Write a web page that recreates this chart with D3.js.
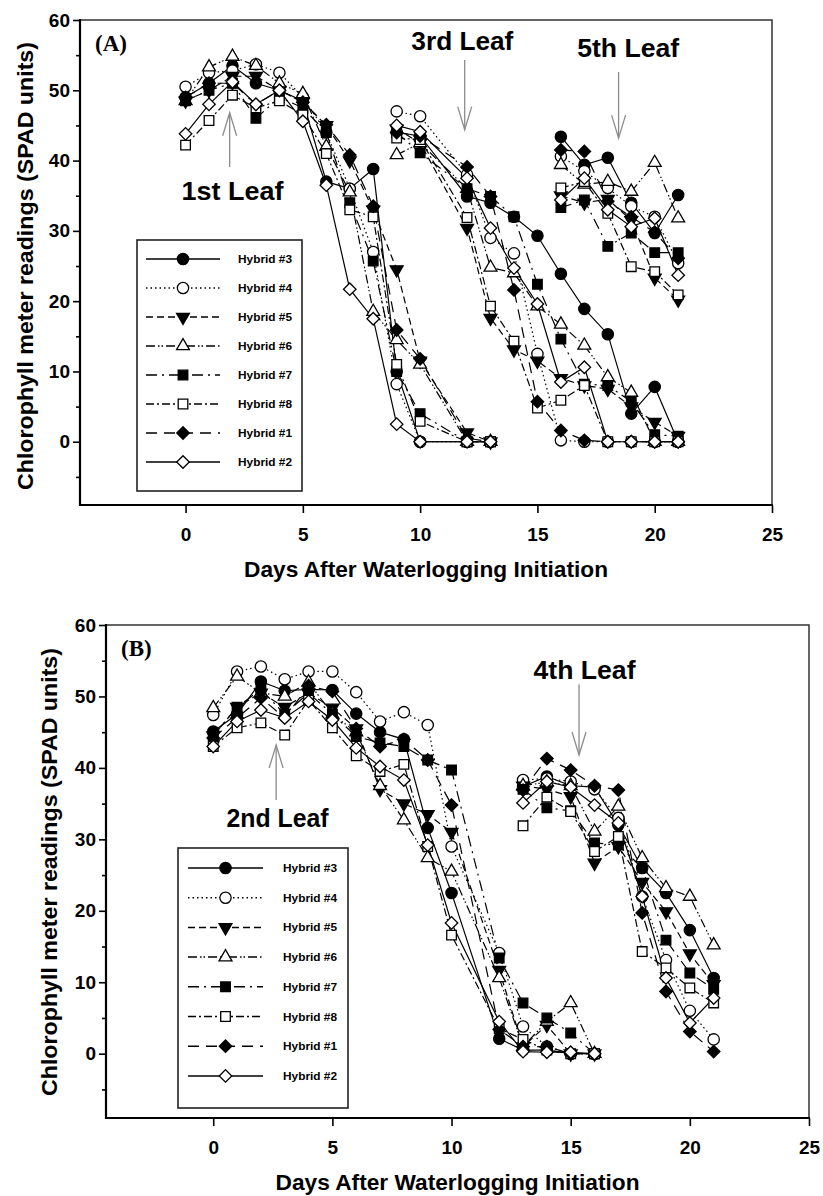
<!DOCTYPE html>
<html>
<head>
<meta charset="utf-8">
<script src="https://d3js.org/d3.v7.min.js"></script>
<style>
    body { margin: 0; background: #fff; }
    svg text { font-family: "Liberation Sans", Arial, sans-serif; font-weight: bold; fill: #000; }
    .series { fill: none; stroke: #000; stroke-width: 1.2; }
    .panelTag { font-family: "Liberation Serif", "Times New Roman", serif !important; }
</style>
</head>
<body>
<svg id="chart" width="823" height="1196"></svg>

<script>
    // ---- data ----
    // hybrid order as in the legend
    const hybrids = ["Hybrid #3", "Hybrid #4", "Hybrid #5", "Hybrid #6", "Hybrid #7", "Hybrid #8", "Hybrid #1", "Hybrid #2"];

    // panel A
    const daysLeaf1 = [0, 1, 2, 3, 4, 5, 6, 7, 8, 9, 10, 12, 13];
    const leaf1 = [
        [49, 51, 53.5, 51, 50, 48.5, 37, 36, 38.8, 10, 0, 0, 0],
        [50.5, 52.5, 52.8, 53.7, 52.5, 49, 44, 36, 27, 8.2, 0, 0, 0],
        [48.5, 50, 52, 52, 50, 48.3, 45, 40, 33, 24.5, 11.5, 1.3, 0],
        [48.5, 53.3, 54.8, 53.5, 51, 49.5, 42, 35.5, 18.5, 14.5, 11, 0, 0],
        [48.5, 50, 51, 46, 49, 47.5, 44, 34, 25.7, 10, 4, 0, 0],
        [42.2, 45.7, 49.3, 47.5, 48.5, 46.5, 41, 33, 32, 11, 2.9, 0, 0],
        [49, 51, 51, 48, 50, 48.3, 45.1, 40.8, 33.5, 15.9, 11.8, 0.5, 0],
        [43.8, 48, 51.2, 48, 50, 45.6, 36.5, 21.7, 17.5, 2.5, 0, 0, 0]
    ];
    const daysLeaf3 = [9, 10, 12, 13, 14, 15, 16, 17, 18, 19, 20, 21];
    const leaf3 = [
        [44, 43.5, 34.9, 34, 32, 29.3, 23.9, 18.9, 15.3, 4, 7.8, 0],
        [47, 46.3, 38, 29, 26.8, 12.5, 0.2, 0, 0, 0, 0, 0],
        [44.5, 42.5, 30.4, 17.6, 13.1, 11.5, 9, 8, 7.5, 5, 2.8, 0.8],
        [40.8, 42.5, 36, 24.8, 24, 19.3, 16.7, 13.7, 9.2, 7, 0, 0],
        [44, 41.1, 36, 34.9, 32, 22.4, 14.6, 8.2, 8, 5.7, 1, 0.8],
        [43.2, 43, 31.9, 19.3, 14.3, 4.8, 5.9, 8, 0, 0, 0, 0],
        [44, 43.5, 39.1, 34.9, 21.6, 5.7, 1.6, 0.2, 0, 0, 0, 0],
        [45, 44.1, 37.5, 30.4, 24.7, 19.6, 8.5, 10.6, 0, 0, 0, 0]
    ];
    const daysLeaf5 = [16, 17, 18, 19, 20, 21];
    const leaf5 = [
        [43.4, 39.4, 40.4, 34, 29.7, 35.1],
        [40.6, 38.5, 36.1, 33.5, 32, 25.4],
        [35, 34, 34.5, 31.5, 23.3, 20.2],
        [39.4, 36.6, 37, 35.6, 39.7, 31.8],
        [33.3, 34.4, 27.8, 29.7, 26.9, 26.9],
        [36.1, 37, 32.5, 24.9, 24.2, 20.9],
        [41.5, 41.3, 34.2, 32, 29.8, 26.1],
        [34.4, 37.5, 33, 30.6, 31.8, 23.7]
    ];

    // panel B
    const daysLeaf2 = [0, 1, 2, 3, 4, 5, 6, 7, 8, 9, 10, 12, 13, 14, 15, 16];
    const leaf2 = [
        [45.1, 47.5, 52.1, 50.8, 51, 50.9, 47.6, 45, 44, 31.6, 22.5, 2.1, 0.5, 0.5, 0, 0],
        [47.4, 53.5, 54.2, 52.4, 53.5, 53.5, 50.6, 46.5, 47.8, 46, 29, 14.1, 3.8, 1, 0, 0],
        [44.5, 48.5, 50.5, 48.5, 50.5, 48.4, 45.5, 37, 35, 33.5, 31, 11.7, 1, 4, 0, 0],
        [48.4, 52.8, 50.5, 50, 52, 47.5, 45, 37.5, 32.7, 27.4, 25.5, 10.6, 1, 4.5, 7.1, 0],
        [44.5, 48.5, 51, 47.5, 50.5, 47.5, 44.4, 43.5, 43, 41.1, 39.7, 13.4, 7.1, 5, 2.9, 0],
        [43, 45.6, 46.3, 44.6, 49.5, 45.6, 41.7, 39.5, 40.5, 29, 16.6, 3.5, 2, 0.5, 0, 0],
        [44.2, 47, 49.8, 47, 51.5, 50.7, 45.5, 43, 44, 41.1, 34.8, 3.4, 1, 1, 0, 0],
        [43, 46.5, 48.1, 47, 49.3, 46.7, 42.8, 40.2, 38.3, 29.2, 18.3, 4.5, 0.3, 0.2, 0.2, 0]
    ];
    const daysLeaf4 = [13, 14, 15, 16, 17, 18, 19, 20, 21];
    const leaf4 = [
        [37.4, 38.8, 37.5, 37.3, 32, 26, 22.5, 17.3, 10.6],
        [38.3, 38.5, 38.1, 37, 33, 22, 13.1, 6, 2],
        [37.5, 37, 36, 26.7, 29, 24, 19.9, 14, 9.7],
        [37.5, 38, 37.5, 31.1, 34.6, 27.4, 23.2, 22, 15.2],
        [37, 34.4, 34, 29.5, 29.2, 26, 15.9, 11.3, 9],
        [31.9, 35.9, 33.9, 28.3, 30.4, 14.3, 12, 9.2, 7.1],
        [36.9, 41.3, 39.7, 37.5, 36.9, 19.7, 8.7, 3.1, 0.3],
        [35.1, 38.1, 37.3, 34.8, 32.3, 22, 10.6, 4.3, 7.8]
    ];

    // axis ticks
    const xTicks = [0, 5, 10, 15, 20, 25];
    const yTicks = [0, 10, 20, 30, 40, 50, 60];
    const yMinorTicks = [-5, 5, 15, 25, 35, 45, 55];

    // leaf annotations: label, arrow x (days), arrow tail/tip (SPAD), label pos
    const notesA = [
        {text: "1st Leaf", x: 1.88, tail: 39.1, tip: 46.8, lx: 2.0, ly: 34.4},
        {text: "3rd Leaf", x: 11.9, tail: 54.3, tip: 44.4, lx: 11.8, ly: 55.8},
        {text: "5th Leaf", x: 18.46, tail: 52.6, tip: 43.2, lx: 18.87, ly: 54.8}
    ];
    const notesB = [
        {text: "2nd Leaf", x: 2.64, tail: 35.5, tip: 43.2, lx: 2.7, ly: 31.7},
        {text: "4th Leaf", x: 15.35, tail: 51.7, tip: 41.8, lx: 15.58, ly: 52.4}
    ];

    // ---- styles per hybrid ----
    const shapes = ["circle", "circle", "triDown", "triUp", "square", "square", "diamond", "diamond"];
    const filled = [true, false, true, false, true, false, true, false];
    const dashes = [null, "1.5,3", "7,4", "9,3,1.5,2,1.5,3", "11,5,2,5", "8,3,2,3", "11,7", null];

    const svg = d3.select("#chart");

    function markerPath(shape){
        if(shape === "circle") return d3.symbol(d3.symbolCircle, 100)();
        if(shape === "square") return d3.symbol(d3.symbolSquare, 92)();
        if(shape === "diamond") return d3.symbol(d3.symbolSquare, 78)();
        return d3.symbol(d3.symbolTriangle, 72)();
    }
    function markerRotate(shape){
        if(shape === "diamond") return 45;
        if(shape === "triDown") return 180;
        return 0;
    }
    function drawMarker(g, i, px, py){
        g.append("path")
            .attr("d", markerPath(shapes[i]))
            .attr("transform", `translate(${px},${py}) rotate(${markerRotate(shapes[i])})`)
            .attr("fill", filled[i] ? "#000" : "#fff")
            .attr("stroke", "#000")
            .attr("stroke-width", 1.3)
    }

    function drawPanel(p){
        let x = d3.scaleLinear().domain([-4.5, 25]).range([p.left, p.right]);
        let y = d3.scaleLinear().domain([-9, 60]).range([p.bottom, p.top]);

        // frame
        svg.append("rect")
            .attr("x", p.left).attr("y", p.top)
            .attr("width", p.right - p.left).attr("height", p.bottom - p.top)
            .attr("fill", "none").attr("stroke", "#333").attr("stroke-width", 1.5)

        // axes
        let ay = svg.append("g")
            .attr("transform", `translate(${p.left},0)`)
            .call(d3.axisLeft(y).tickValues(yTicks).tickSize(7).tickPadding(3))
        svg.append("g")
            .attr("transform", `translate(${p.left},0)`)
            .call(d3.axisLeft(y).tickValues(yMinorTicks).tickSize(4).tickFormat(""))
        let ax = svg.append("g")
            .attr("transform", `translate(0,${p.bottom})`)
            .call(d3.axisBottom(x).tickValues(xTicks).tickSize(8).tickPadding(15))
        svg.selectAll(".domain").remove();
        svg.selectAll(".tick line").attr("stroke", "#000").attr("stroke-width", 1.6);
        ay.selectAll("text").style("font-size", "19px");
        ax.selectAll("text").style("font-size", "19px");

        svg.append("line")
            .attr("x1", p.left).attr("x2", p.left).attr("y1", p.top - 1).attr("y2", p.bottom + 1)
            .attr("stroke", "#000").attr("stroke-width", 2.2)
        svg.append("line")
            .attr("x1", p.left - 1).attr("x2", p.right + 1).attr("y1", p.bottom).attr("y2", p.bottom)
            .attr("stroke", "#000").attr("stroke-width", 2.2)

        // titles
        svg.append("text")
            .attr("x", (p.left + p.right) / 2).attr("y", p.bottom + 72)
            .attr("text-anchor", "middle")
            .attr("textLength", 364).attr("lengthAdjust", "spacingAndGlyphs")
            .style("font-size", "22px")
            .text("Days After Waterlogging Initiation")
        svg.append("text")
            .attr("transform", `translate(${p.titleX},${p.titleY}) rotate(-90)`)
            .attr("text-anchor", "middle")
            .attr("textLength", 448).attr("lengthAdjust", "spacingAndGlyphs")
            .style("font-size", "22px")
            .text("Chlorophyll meter readings (SPAD units)")
        svg.append("text")
            .attr("class", "panelTag")
            .attr("x", p.left + 15).attr("y", p.top + 31)
            .style("font-size", "23px")
            .text(p.tag)

        // series lines then markers
        let line = d3.line().x(d => x(d[0])).y(d => y(d[1]));
        let body = svg.append("g");
        p.leaves.forEach(leaf => {
            leaf.values.forEach((vals, i) => {
                let pts = vals.map((v, k) => [leaf.days[k], v]);
                body.append("path")
                    .datum(pts)
                    .attr("class", "series")
                    .attr("stroke-dasharray", dashes[i])
                    .attr("d", line)
            })
        })
        p.leaves.forEach(leaf => {
            leaf.values.forEach((vals, i) => {
                vals.forEach((v, k) => drawMarker(body, i, x(leaf.days[k]), y(v)));
            })
        })

        // leaf annotations
        p.notes.forEach(n => {
            let ax0 = x(n.x), yt = y(n.tip), ys = y(n.tail);
            let dir = yt < ys ? 1 : -1;
            let arrow = svg.append("g").attr("stroke", "#8c8c8c").attr("stroke-width", 1.3).attr("fill", "none");
            arrow.append("line").attr("x1", ax0).attr("x2", ax0).attr("y1", ys).attr("y2", yt);
            arrow.append("path").attr("d", `M${ax0 - 7},${yt + dir * 23}L${ax0},${yt}L${ax0 + 7},${yt + dir * 23}`);
            svg.append("text")
                .attr("x", x(n.lx)).attr("y", y(n.ly))
                .attr("text-anchor", "middle")
                .attr("textLength", 102).attr("lengthAdjust", "spacingAndGlyphs")
                .style("font-size", "25px")
                .text(n.text)
        })

        // legend
        let L = p.legend;
        let lg = svg.append("g");
        lg.append("rect")
            .attr("x", L.x).attr("y", L.y).attr("width", L.w).attr("height", L.h)
            .attr("fill", "#fff").attr("stroke", "#222").attr("stroke-width", 1.6)
        hybrids.forEach((h, i) => {
            let ry = L.rowY + i * L.step;
            lg.append("line")
                .attr("x1", L.x1).attr("x2", L.x2).attr("y1", ry).attr("y2", ry)
                .attr("stroke", "#000").attr("stroke-width", 1.5)
                .attr("stroke-dasharray", dashes[i])
            drawMarker(lg, i, (L.x1 + L.x2) / 2, ry);
            lg.append("text")
                .attr("x", L.tx).attr("y", ry + 4)
                .attr("textLength", 54).attr("lengthAdjust", "spacingAndGlyphs")
                .style("font-size", "11.5px")
                .text(h)
        })
    }

    drawPanel({
        tag: "(A)", left: 80, top: 20, right: 772, bottom: 505,
        titleX: 33, titleY: 266,
        leaves: [
            {days: daysLeaf1, values: leaf1},
            {days: daysLeaf3, values: leaf3},
            {days: daysLeaf5, values: leaf5}
        ],
        notes: notesA,
        legend: {x: 137, y: 240, w: 165, h: 251, x1: 146, x2: 220, tx: 238, rowY: 259, step: 29}
    });

    drawPanel({
        tag: "(B)", left: 106, top: 625, right: 809, bottom: 1118,
        titleX: 57, titleY: 872,
        leaves: [
            {days: daysLeaf2, values: leaf2},
            {days: daysLeaf4, values: leaf4}
        ],
        notes: notesB,
        legend: {x: 178, y: 848, w: 170, h: 260, x1: 188, x2: 263, tx: 283, rowY: 868, step: 29.7}
    });
</script>
</body>
</html>
